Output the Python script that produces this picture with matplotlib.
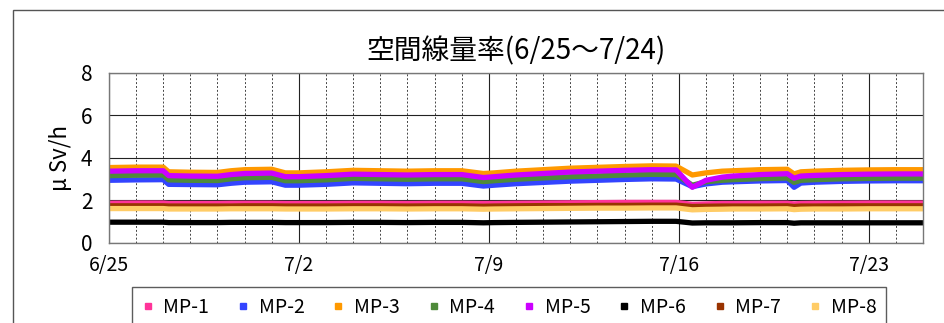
import matplotlib.pyplot as plt
from matplotlib.lines import Line2D
from matplotlib.patches import Rectangle
from matplotlib.ticker import MultipleLocator

plt.rcParams["font.family"] = ["Noto Sans CJK JP", "DejaVu Sans"]

# days elapsed since 6/25
days = [0, 1, 2.0, 2.2, 3, 4, 4.5, 5, 6, 6.5,
        7, 8, 9, 10, 11, 12, 13, 13.8, 14.2, 15,
        16, 17, 18, 19, 20, 20.9, 21.5, 22, 22.6, 23,
        24, 25, 25.25, 25.5, 26, 27, 28, 29, 30]

mp1 = [1.87, 1.88, 1.88, 1.86, 1.86, 1.86, 1.87, 1.87, 1.87, 1.86,
       1.86, 1.86, 1.87, 1.87, 1.86, 1.87, 1.87, 1.86, 1.86, 1.87,
       1.88, 1.89, 1.90, 1.91, 1.91, 1.91, 1.82, 1.84, 1.86, 1.86,
       1.87, 1.87, 1.84, 1.86, 1.87, 1.87, 1.88, 1.88, 1.88]
mp2 = [2.95, 2.97, 2.98, 2.76, 2.75, 2.74, 2.81, 2.86, 2.88, 2.72,
       2.72, 2.76, 2.83, 2.81, 2.79, 2.81, 2.81, 2.68, 2.72, 2.79,
       2.85, 2.91, 2.95, 2.99, 3.02, 3.01, 2.65, 2.78, 2.86, 2.88,
       2.92, 2.94, 2.62, 2.82, 2.86, 2.90, 2.92, 2.93, 2.93]
mp3 = [3.55, 3.57, 3.57, 3.35, 3.33, 3.32, 3.40, 3.45, 3.47, 3.30,
       3.30, 3.35, 3.42, 3.40, 3.38, 3.40, 3.40, 3.27, 3.30, 3.38,
       3.45, 3.52, 3.56, 3.60, 3.63, 3.62, 3.20, 3.30, 3.38, 3.40,
       3.45, 3.47, 3.25, 3.35, 3.38, 3.42, 3.44, 3.45, 3.45]
mp4 = [3.17, 3.19, 3.20, 2.97, 2.95, 2.94, 3.02, 3.07, 3.09, 2.93,
       2.93, 2.97, 3.04, 3.02, 3.00, 3.02, 3.02, 2.89, 2.93, 3.00,
       3.06, 3.12, 3.16, 3.20, 3.23, 3.22, 2.72, 2.88, 2.95, 2.98,
       3.03, 3.06, 2.85, 2.95, 2.98, 3.02, 3.04, 3.05, 3.05]
mp5 = [3.38, 3.40, 3.40, 3.17, 3.15, 3.14, 3.22, 3.27, 3.29, 3.12,
       3.12, 3.17, 3.24, 3.22, 3.20, 3.22, 3.22, 3.08, 3.12, 3.20,
       3.27, 3.34, 3.38, 3.42, 3.45, 3.44, 2.62, 2.95, 3.10, 3.15,
       3.22, 3.26, 3.05, 3.15, 3.18, 3.22, 3.24, 3.25, 3.25]
mp6 = [0.98, 0.98, 0.98, 0.96, 0.96, 0.96, 0.97, 0.97, 0.97, 0.96,
       0.96, 0.96, 0.97, 0.97, 0.96, 0.97, 0.97, 0.95, 0.96, 0.97,
       0.98, 0.99, 1.00, 1.01, 1.02, 1.02, 0.94, 0.95, 0.95, 0.95,
       0.96, 0.96, 0.93, 0.95, 0.95, 0.95, 0.95, 0.95, 0.95]
mp7 = [1.75, 1.75, 1.75, 1.74, 1.74, 1.74, 1.74, 1.75, 1.75, 1.74,
       1.74, 1.74, 1.75, 1.75, 1.74, 1.75, 1.75, 1.73, 1.74, 1.75,
       1.76, 1.76, 1.77, 1.77, 1.78, 1.78, 1.72, 1.73, 1.74, 1.74,
       1.74, 1.75, 1.72, 1.74, 1.74, 1.75, 1.75, 1.75, 1.75]
mp8 = [1.62, 1.62, 1.62, 1.60, 1.60, 1.60, 1.61, 1.61, 1.61, 1.60,
       1.60, 1.60, 1.61, 1.61, 1.60, 1.61, 1.61, 1.59, 1.60, 1.61,
       1.62, 1.63, 1.64, 1.64, 1.65, 1.65, 1.56, 1.58, 1.59, 1.60,
       1.60, 1.61, 1.57, 1.59, 1.60, 1.60, 1.61, 1.61, 1.61]

series_names = ["MP-1", "MP-2", "MP-3", "MP-4", "MP-5", "MP-6", "MP-7", "MP-8"]
series_values = [mp1, mp2, mp3, mp4, mp5, mp6, mp7, mp8]
series_colors = ["#FF3399", "#3344FF", "#FF9900", "#4F8A3A",
                 "#CC00FF", "#000000", "#993300", "#FFCC66"]

tick_days = [0, 7, 14, 21, 28]
tick_labels = ["6/25", "7/2", "7/9", "7/16", "7/23"]

fig = plt.figure(figsize=(9.45, 3.23), dpi=100)
ax = fig.add_axes([0.1153, 0.2477, 0.8614, 0.5263])

for name, vals, col in zip(series_names, series_values, series_colors):
    ax.plot(days, vals, color=col, lw=3.8, solid_capstyle="butt",
            solid_joinstyle="round", label=name)

ax.set_xlim(0, 30)
ax.set_ylim(0, 8)
ax.set_yticks([0, 2, 4, 6, 8])
ax.set_xticks(tick_days)
ax.set_xticklabels(tick_labels)
ax.xaxis.set_minor_locator(MultipleLocator(1))
ax.tick_params(axis="both", which="both", length=0)
ax.tick_params(axis="y", labelsize=15, pad=12)
ax.tick_params(axis="x", labelsize=14, pad=9)

ax.grid(axis="y", color="#222222", lw=0.8)
ax.grid(axis="x", which="major", color="#222222", lw=0.8)
ax.grid(axis="x", which="minor", color="#444444", lw=0.7, ls=(0, (2, 2)))
ax.set_axisbelow(True)
for sp in ax.spines.values():
    sp.set_color("#777777")
    sp.set_linewidth(1.0)

ax.set_ylabel("μ Sv/h", fontsize=16, labelpad=6)
ax.set_title("空間線量率(6/25～7/24)", fontsize=20, pad=10)

handles = [Line2D([], [], marker="s", ls="none", markersize=4, color=c)
           for c in series_colors]
leg = fig.legend(handles, series_names, ncol=8, loc="upper left",
                 bbox_to_anchor=(132 / 945, 1 - 287 / 323), fontsize=14,
                 frameon=True, fancybox=False, handlelength=0.6,
                 handletextpad=0.5, columnspacing=1.45, borderpad=0.5,
                 borderaxespad=0)
leg.get_frame().set_edgecolor("#333333")
leg.get_frame().set_linewidth(1.0)

# outer frame of the chart area
fig.patches.append(Rectangle((13 / 945, -0.1), 1.2, 1.1 - 10 / 323,
                             transform=fig.transFigure, fill=False,
                             edgecolor="#555555", lw=1.0))

fig.savefig("out.png", dpi=100)
